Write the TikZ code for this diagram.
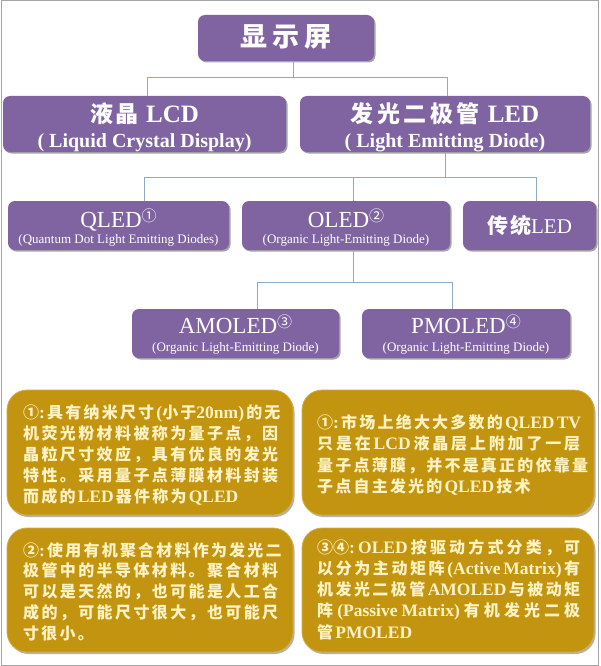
\documentclass[tikz,border=0pt]{standalone}
\usepackage{fontspec}
\setmainfont{Liberation Serif}
\newfontfamily\cjk{Noto Sans CJK SC}
\usetikzlibrary{shadows}
\definecolor{purp}{HTML}{8064A2}
\definecolor{gold}{HTML}{C29410}
\definecolor{goldrim}{HTML}{D4AC48}
\definecolor{conncol}{HTML}{8FAAC3}
\definecolor{cream}{HTML}{FFF3C4}
\definecolor{framecol}{HTML}{A6A6A6}
\newdimen\spreadg \spreadg=2.2pt
\newcommand\gstep{\hskip\spreadg plus 1fil\relax}
\ExplSyntaxOn
\NewDocumentCommand\spread{m}{\tl_map_inline:nn {#1} {##1 \gstep} \unskip}
\ExplSyntaxOff
\newcommand\lat[1]{{\rmfamily\bfseries\fontsize{17.5}{21}\selectfont #1}}
\newcommand\jl[2]{\hbox to #1{\spread{#2}}}
\newcommand\nl[1]{\hbox{\spread{#1}}}
\newcommand\circnum[1]{\raisebox{6pt}{\cjk\fontsize{15}{15}\selectfont #1}}
\tikzset{
  x=1pt, y=-1pt,
  pbox/.style={fill=purp, rounded corners=7pt, inner sep=0pt,
    drop shadow={shadow xshift=1.5pt, shadow yshift=-1.5pt, opacity=0.35, fill=black}},
  gbox/.style={fill=gold, draw=goldrim, line width=0.8pt, rounded corners=20pt, inner sep=0pt,
    drop shadow={shadow xshift=1.5pt, shadow yshift=-2pt, opacity=0.3, fill=black}},
  conn/.style={draw=conncol, line width=0.9pt},
  wt/.style={text=white, inner sep=0pt, anchor=base},
  sub/.style={font=\bfseries\fontsize{20}{20}\selectfont},
  mid/.style={font=\fontsize{23}{23}\selectfont},
  small/.style={font=\fontsize{13}{13}\selectfont},
  ct/.style={text=cream, inner sep=0pt, anchor=base west, font=\cjk\bfseries\fontsize{16}{21}\selectfont}
}
\begin{document}
\begin{tikzpicture}
\useasboundingbox (0,0) rectangle (600,666);
\fill[white] (0,0) rectangle (600,666);
\draw[framecol, line width=1pt] (1,1) rectangle (598,665);

% purple boxes
\node[pbox, minimum width=176pt, minimum height=46pt] (top) at (286,38) {};
\node[pbox, minimum width=283pt, minimum height=56pt] (lcd) at (144.5,124) {};
\node[pbox, minimum width=290pt, minimum height=56pt] (led) at (445,124) {};
\node[pbox, minimum width=221pt, minimum height=49pt] (qled) at (118.5,225.5) {};
\node[pbox, minimum width=208pt, minimum height=49pt] (oled) at (346,225.5) {};
\node[pbox, minimum width=133pt, minimum height=49pt] (tled) at (529.5,225.5) {};
\node[pbox, minimum width=207pt, minimum height=49pt] (amo) at (235.5,333.5) {};
\node[pbox, minimum width=208pt, minimum height=49pt] (pmo) at (466,333.5) {};

% connectors
\draw[conn] ([xshift=7pt]top.south) -- ++(0,16) coordinate (j1) -| ([xshift=2.5pt]lcd.north);
\draw[conn] (j1) -| ([xshift=2pt]led.north);
\draw[conn] (led.south) -- ++(0,25) coordinate (j2) -| ([xshift=25.5pt]qled.north);
\draw[conn] (j2) -| ([xshift=7pt]oled.north);
\draw[conn] (j2) -| ([xshift=6.5pt]tled.north);
\draw[conn] ([xshift=7pt]oled.south) -- ++(0,32) coordinate (j3) -| ([xshift=21.5pt]amo.north);
\draw[conn] (j3) -| ([xshift=-14pt]pmo.north);

% purple texts
\node[wt, font=\cjk\bfseries\fontsize{27}{27}\selectfont] (ttop) at (286,47) {显\hspace{5pt}示\hspace{5pt}屏};
\node[wt] (tlcda) at (144.5,123) {{\cjk\bfseries\fontsize{23}{23}\selectfont 液\hspace{2pt}晶}\hspace{8pt}{\bfseries\fontsize{25}{25}\selectfont LCD}};
\node[wt, sub] (tlcdb) at (144.5,147) {( Liquid Crystal Display)};
\node[wt] (tleda) at (445,123) {{\cjk\bfseries\fontsize{23}{23}\selectfont 发\hspace{3.5pt}光\hspace{3.5pt}二\hspace{3.5pt}极\hspace{3.5pt}管}\hspace{8pt}{\bfseries\fontsize{25}{25}\selectfont LED}};
\node[wt, sub] (tledb) at (445,147) {( Light Emitting Diode)};
\node[wt, mid] (tqa) at (118.5,227) {QLED\circnum{①}};
\node[wt, small] (tqb) at (118.5,243) {(Quantum Dot Light Emitting Diodes)};
\node[wt, mid] (toa) at (346,227) {OLED\circnum{②}};
\node[wt, small] (tob) at (346,243) {(Organic Light-Emitting Diode)};
\node[wt, font=\fontsize{21}{21}\selectfont] (tta) at (529.5,233) {{\cjk\bfseries 传\hspace{2pt}统}LED};
\node[wt, mid] (taa) at (235.5,333) {AMOLED\circnum{③}};
\node[wt, small] (tab) at (235.5,351) {(Organic Light-Emitting Diode)};
\node[wt, mid] (tpa) at (466,333) {PMOLED\circnum{④}};
\node[wt, small] (tpb) at (466,351) {(Organic Light-Emitting Diode)};

% gold boxes
\node[gbox, minimum width=286pt, minimum height=125pt] (g1) at (150,452.5) {};
\node[gbox, minimum width=292pt, minimum height=125pt] (g2) at (448,452.5) {};
\node[gbox, minimum width=286pt, minimum height=124pt] (g3) at (150,590) {};
\node[gbox, minimum width=292pt, minimum height=124pt] (g4) at (448,590) {};

\node[ct] (n1) at (23,418) {\vtop{\baselineskip=21pt\lineskiplimit=-20pt
\jl{255pt}{{①\lat{:}}具有纳米尺寸{\lat{(}小}{于\lat{20nm)}}的无}
\jl{255pt}{机荧光粉材料被称为量子点，因}
\jl{255pt}{晶粒尺寸效应，具有优良的发光}
\jl{255pt}{特性。采用量子点薄膜材料封装}
\nl{而成的{\lat{LED}}器件称为{\lat{QLED}}}}};

\node[ct] (n2) at (317,428) {\vtop{\baselineskip=21.5pt\lineskiplimit=-20pt
\jl{263pt}{{①\lat{:}}市场上绝大大多数的{\lat{QLED}}{\lat{TV}}}
\jl{263pt}{只是在{\lat{LCD}}液晶层上附加了一层}
\jl{263pt}{量子点薄膜，并不是真正的依靠量}
\nl{子点自主发光的{\lat{QLED}}技术}}};

\node[ct] (n3) at (23,556) {\vtop{\baselineskip=20.8pt\lineskiplimit=-20pt
\jl{255pt}{{②\lat{:}}使用有机聚合材料作为发光二}
\jl{255pt}{极管中的半导体材料。聚合材料}
\jl{255pt}{可以是天然的，也可能是人工合}
\jl{255pt}{成的，可能尺寸很大，也可能尺}
\nl{寸很小。}}};

\node[ct] (n4) at (317,553) {\vtop{\baselineskip=21.3pt\lineskiplimit=-20pt
\jl{263pt}{{③④\lat{:}}{\lat{OLED}}按驱动方式分类，可}
\jl{263pt}{以分为主动矩阵{\lat{(Active}}{\lat{Matrix)}}有}
\jl{263pt}{机发光二极管{\lat{AMOLED}}与被动矩}
\jl{263pt}{阵{\lat{(Passive}}{\lat{Matrix)}}有机发光二极}
\nl{管{\lat{PMOLED}}}}};
\end{tikzpicture}
\end{document}
